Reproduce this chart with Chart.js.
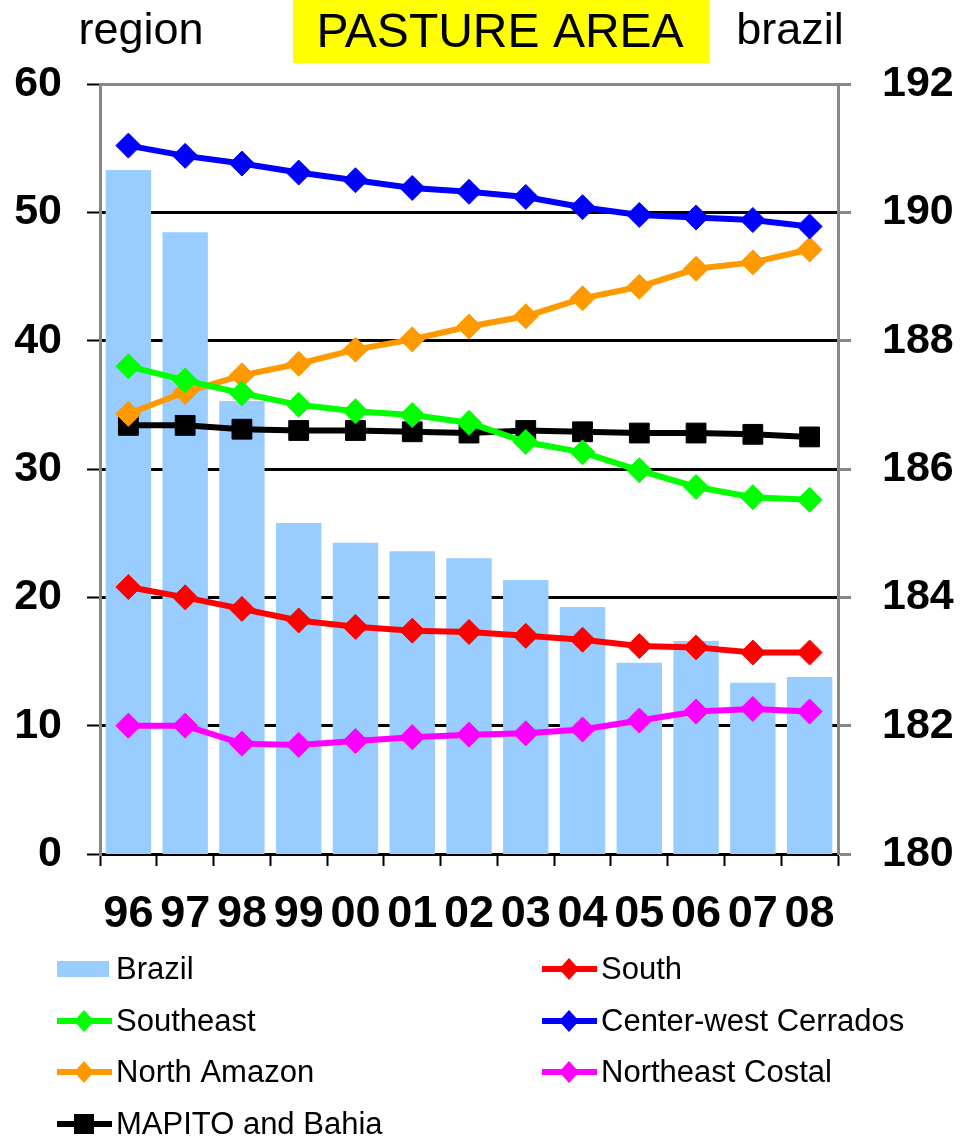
<!DOCTYPE html>
<html>
<head>
<meta charset="utf-8">
<script src="https://cdn.jsdelivr.net/npm/chart.js@4/dist/chart.umd.min.js"></script>
<style>
  body { margin: 0; background: #fff; }
  canvas { display: block; }
</style>
</head>
<body>
<canvas id="myChart" width="961" height="1146"></canvas>
<script>
var years = ['96', '97', '98', '99', '00', '01', '02', '03', '04', '05', '06', '07', '08']
var leftTicks = [0, 10, 20, 30, 40, 50, 60]
var rightTicks = [180, 182, 184, 186, 188, 190, 192]

// brazil total, right axis
var brazil = [190.66, 189.69, 187.06, 185.16, 184.85, 184.72, 184.61, 184.27, 183.85, 182.98, 183.32, 182.67, 182.76]
// regions, left axis
var south = [20.8, 20.0, 19.1, 18.2, 17.7, 17.4, 17.3, 17.0, 16.7, 16.2, 16.1, 15.7, 15.7]
var southeast = [38.0, 36.9, 35.9, 35.0, 34.5, 34.2, 33.6, 32.1, 31.3, 29.9, 28.6, 27.8, 27.6]
var centerWest = [55.2, 54.4, 53.8, 53.1, 52.5, 51.9, 51.6, 51.2, 50.4, 49.8, 49.6, 49.4, 48.9]
var northAmazon = [34.3, 36.0, 37.3, 38.2, 39.3, 40.1, 41.1, 41.9, 43.3, 44.2, 45.6, 46.1, 47.1]
var northeast = [10.0, 10.0, 8.6, 8.5, 8.8, 9.1, 9.3, 9.4, 9.7, 10.4, 11.1, 11.3, 11.1]
var mapito = [33.4, 33.4, 33.1, 33.0, 33.0, 32.9, 32.8, 33.0, 32.9, 32.8, 32.8, 32.7, 32.5]

var FONT = '"Liberation Sans", Arial, sans-serif'

function lineSet(label, data, color, shape) {
      return {
            type: 'line',
            label: label,
            data: data,
            yAxisID: 'y',
            order: 0,
            fill: false,
            tension: 0,
            borderColor: color,
            backgroundColor: color,
            borderWidth: 6,
            pointStyle: shape || 'rectRot',
            pointRadius: shape === 'rect' ? 14 : 12.5,
            pointBorderWidth: 1,
            pointBorderColor: color,
            pointBackgroundColor: color
      }
}

// title row at the top
var headerPlugin = {
      id: 'header',
      afterDraw: function (chart) {
            var ctx = chart.ctx
            ctx.save()
            ctx.fillStyle = '#FFFF00'
            ctx.fillRect(293, 0, 416, 63)
            ctx.fillStyle = '#000'
            ctx.textAlign = 'center'
            ctx.textBaseline = 'alphabetic'
            ctx.font = '48px ' + FONT
            ctx.fillText('PASTURE AREA', 500, 47)
            ctx.font = '45px ' + FONT
            ctx.fillText('region', 141, 44)
            ctx.fillText('brazil', 790, 44)
            ctx.restore()
      }
}

// two column legend under the axis
var legendPlugin = {
      id: 'twoColLegend',
      afterDraw: function (chart) {
            var ctx = chart.ctx
            var rows = [969, 1021, 1072, 1124]
            var cols = [57, 542]
            ctx.save()
            ctx.font = '31px ' + FONT
            ctx.textBaseline = 'middle'
            ctx.textAlign = 'left'
            chart.data.datasets.forEach(function (ds, i) {
                  var x = cols[i % 2]
                  var y = rows[Math.floor(i / 2)]
                  if (ds.type === 'bar') {
                        ctx.fillStyle = ds.backgroundColor
                        ctx.fillRect(x, y - 8, 52, 16)
                  } else {
                        ctx.strokeStyle = ds.borderColor
                        ctx.lineWidth = 6
                        ctx.beginPath()
                        ctx.moveTo(x, y)
                        ctx.lineTo(x + 55, y)
                        ctx.stroke()
                        ctx.fillStyle = ds.borderColor
                        var cx = x + 27
                        ctx.beginPath()
                        if (ds.pointStyle === 'rect') {
                              ctx.rect(cx - 10, y - 10, 20, 20)
                        } else {
                              ctx.moveTo(cx - 10, y)
                              ctx.lineTo(cx, y - 11)
                              ctx.lineTo(cx + 10, y)
                              ctx.lineTo(cx, y + 11)
                              ctx.closePath()
                        }
                        ctx.fill()
                  }
                  ctx.fillStyle = '#000'
                  ctx.fillText(ds.label, x + 59, y + 1)
            })
            ctx.restore()
      }
}

var ctx = document.getElementById('myChart')
var myChart = new Chart(ctx, {
      data: {
            labels: years,
            datasets: [
                  {
                        type: 'bar',
                        label: 'Brazil',
                        data: brazil,
                        yAxisID: 'y2',
                        order: 10,
                        backgroundColor: '#99CCFF',
                        borderWidth: 0,
                        barPercentage: 0.8,
                        categoryPercentage: 1.0
                  },
                  lineSet('South', south, '#FF0000'),
                  lineSet('Southeast', southeast, '#00FF00'),
                  lineSet('Center-west Cerrados', centerWest, '#0000FF'),
                  lineSet('North Amazon', northAmazon, '#FF9900'),
                  lineSet('Northeast Costal', northeast, '#FF00FF'),
                  lineSet('MAPITO and Bahia', mapito, '#000000', 'rect')
            ]
      },
      options: {
            animation: false,
            responsive: false,
            devicePixelRatio: 1,
            layout: {
                  padding: { top: 84, bottom: 212, left: 0, right: 0 }
            },
            plugins: {
                  legend: { display: false },
                  tooltip: { enabled: false },
                  title: { display: false }
            },
            scales: {
                  x: {
                        type: 'category',
                        offset: true,
                        afterFit: function (scale) { scale.height = 80 },
                        grid: {
                              offset: true,
                              drawOnChartArea: false,
                              tickLength: 12,
                              tickWidth: 2,
                              tickColor: '#000'
                        },
                        border: { color: '#000', width: 3 },
                        ticks: {
                              padding: 22,
                              maxRotation: 0,
                              autoSkip: false,
                              color: '#000',
                              font: { family: FONT, size: 45, weight: 'bold' }
                        }
                  },
                  y: {
                        position: 'left',
                        min: leftTicks[0],
                        max: leftTicks[leftTicks.length - 1],
                        afterFit: function (scale) { scale.width = 100 },
                        afterBuildTicks: function (scale) {
                              scale.ticks = leftTicks.map(function (v) { return { value: v } })
                        },
                        grid: {
                              color: function (c) { return c.tick && c.tick.value === 60 ? '#888888' : '#000000' },
                              lineWidth: 3,
                              tickLength: 13,
                              tickWidth: 2,
                              tickColor: '#000'
                        },
                        border: { color: '#888888', width: 3 },
                        ticks: {
                              padding: 25,
                              color: '#000',
                              font: { family: FONT, size: 43, weight: 'bold' }
                        }
                  },
                  y2: {
                        position: 'right',
                        min: rightTicks[0],
                        max: rightTicks[rightTicks.length - 1],
                        afterFit: function (scale) { scale.width = 123 },
                        afterBuildTicks: function (scale) {
                              scale.ticks = rightTicks.map(function (v) { return { value: v } })
                        },
                        grid: {
                              drawOnChartArea: false,
                              tickLength: 13,
                              tickWidth: 3,
                              tickColor: '#888888'
                        },
                        border: { color: '#888888', width: 3 },
                        ticks: {
                              padding: 31,
                              color: '#000',
                              font: { family: FONT, size: 43, weight: 'bold' }
                        }
                  }
            }
      },
      plugins: [headerPlugin, legendPlugin]
})
</script>
</body>
</html>
